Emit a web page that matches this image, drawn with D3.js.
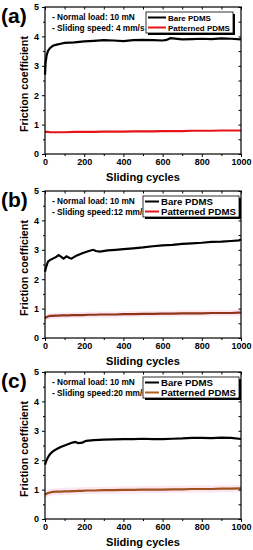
<!DOCTYPE html>
<html>
<head>
<meta charset="utf-8">
<script src="https://cdn.jsdelivr.net/npm/d3@7"></script>
<style>
  body { margin: 0; background: #fff; }
  text { font-family: "Liberation Sans", Arial, sans-serif; font-weight: bold; }
</style>
</head>
<body>
<script>
var cyclesA = [0, 3, 8, 15, 25, 40, 60, 80, 100, 150, 200, 250, 300, 350, 400, 450, 500, 550, 600, 620, 640, 700, 750, 800, 850, 900, 950, 1000];
var bareA = [2.7, 3.1, 3.35, 3.5, 3.6, 3.68, 3.72, 3.75, 3.78, 3.8, 3.83, 3.85, 3.87, 3.86, 3.84, 3.87, 3.88, 3.87, 3.86, 3.88, 3.94, 3.9, 3.91, 3.92, 3.91, 3.93, 3.92, 3.9];
var patA = [0.77, 0.76, 0.75, 0.75, 0.74, 0.74, 0.74, 0.74, 0.74, 0.75, 0.75, 0.75, 0.76, 0.76, 0.76, 0.77, 0.77, 0.77, 0.78, 0.78, 0.78, 0.78, 0.79, 0.79, 0.79, 0.8, 0.8, 0.8];

var cyclesB = [0, 5, 15, 25, 40, 55, 70, 85, 95, 110, 125, 135, 160, 190, 220, 245, 260, 280, 320, 360, 400, 450, 500, 550, 600, 650, 700, 750, 800, 850, 900, 950, 990, 1000];
var bareB = [2.25, 2.4, 2.6, 2.65, 2.7, 2.75, 2.82, 2.75, 2.7, 2.78, 2.72, 2.7, 2.8, 2.88, 2.95, 3.0, 2.96, 2.94, 2.98, 3.0, 3.02, 3.05, 3.08, 3.12, 3.15, 3.17, 3.2, 3.22, 3.24, 3.27, 3.28, 3.3, 3.32, 3.36];
var patB = [0.68, 0.7, 0.73, 0.75, 0.75, 0.76, 0.76, 0.77, 0.77, 0.77, 0.77, 0.78, 0.78, 0.78, 0.79, 0.79, 0.79, 0.8, 0.8, 0.8, 0.81, 0.81, 0.82, 0.82, 0.83, 0.83, 0.84, 0.84, 0.84, 0.85, 0.85, 0.85, 0.86, 0.86];

var cyclesC = [0, 5, 15, 25, 40, 60, 80, 100, 120, 140, 155, 170, 190, 210, 250, 300, 350, 400, 450, 500, 550, 600, 650, 700, 750, 800, 850, 900, 950, 1000];
var bareC = [1.85, 1.95, 2.1, 2.2, 2.3, 2.38, 2.45, 2.5, 2.55, 2.6, 2.62, 2.58, 2.6, 2.66, 2.68, 2.7, 2.71, 2.72, 2.72, 2.73, 2.72, 2.72, 2.73, 2.74, 2.76, 2.76, 2.75, 2.77, 2.76, 2.72];
var patC = [0.82, 0.85, 0.88, 0.9, 0.92, 0.93, 0.93, 0.94, 0.94, 0.95, 0.95, 0.96, 0.96, 0.97, 0.97, 0.98, 0.98, 0.99, 0.99, 1.0, 1.0, 1.0, 1.01, 1.01, 1.02, 1.02, 1.02, 1.03, 1.03, 1.04];

var xTicks = [0, 200, 400, 600, 800, 1000];
var yTicks = [0, 1, 2, 3, 4, 5];
var panelLabels = ["(a)", "(b)", "(c)"];
var speedTexts = ["- Sliding speed: 4 mm/s", "- Sliding speed:12 mm/s", "- Sliding speed:20 mm/s"];
var loadText = "- Normal load: 10 mN";
var seriesNames = ["Bare PDMS", "Patterned PDMS"];
var patColors = ["#e8141b", "#8e3418", "#a0521d"];
var legPatColors = ["#e8141b", "#e8141b", "#b0601e"];
var bandWidth = [0, 0.1, 0.12];

var W = 253, H = 550;
var svg = d3.select("body").append("svg").attr("width", W).attr("height", H);

// shrink or grow a text's font so that it spans the wanted width
function fit(sel, width) {
  var fs = +sel.attr("font-size");
  var w = sel.node().getComputedTextLength();
  sel.attr("font-size", fs * width / w);
  return sel;
}

var panels = [
  { top: 7, cycles: cyclesA, bare: bareA, pat: patA },
  { top: 191, cycles: cyclesB, bare: bareB, pat: patB },
  { top: 372, cycles: cyclesC, bare: bareC, pat: patC }
];

var left = 45, right = 241, ph = 147;

panels.forEach(function(p, i) {
  var g = svg.append("g");
  var x = d3.scaleLinear().domain([0, 1000]).range([left, right]);
  var y = d3.scaleLinear().domain([0, 5]).range([p.top + ph, p.top]);

  var bare = p.cycles.map(function(c, k) { return { c: c, v: p.bare[k] }; });
  var pat = p.cycles.map(function(c, k) { return { c: c, v: p.pat[k] }; });

  // pink error band around patterned curve
  if (bandWidth[i] > 0) {
    var area = d3.area()
      .x(function(d) { return x(d.c); })
      .y0(function(d) { return y(d.v - bandWidth[i]); })
      .y1(function(d) { return y(d.v + bandWidth[i]); });
    g.append("path").datum(pat).attr("d", area).attr("fill", "#fce6f2");
  }

  var line = d3.line()
    .x(function(d) { return x(d.c); })
    .y(function(d) { return y(d.v); });

  g.append("path").datum(bare).attr("d", line)
    .attr("fill", "none").attr("stroke", "#000").attr("stroke-width", 2.2);
  g.append("path").datum(pat).attr("d", line)
    .attr("fill", "none").attr("stroke", patColors[i]).attr("stroke-width", 2.2);

  // frame
  g.append("rect").attr("x", left).attr("y", p.top)
    .attr("width", right - left).attr("height", ph)
    .attr("fill", "none").attr("stroke", "#000").attr("stroke-width", 1.2);

  // bottom axis
  var xAx = g.append("g").attr("transform", "translate(0," + (p.top + ph) + ")")
    .call(d3.axisBottom(x).tickValues(xTicks).tickFormat(d3.format("d")).tickSize(3).tickPadding(2));
  xAx.select(".domain").remove();
  xAx.selectAll("text").attr("font-size", 9).attr("fill", "#000")
    .style("font-family", "Liberation Sans, Arial, sans-serif").style("font-weight", "bold");
  g.append("g").attr("transform", "translate(0," + (p.top + ph) + ")")
    .call(d3.axisBottom(x).tickValues(d3.range(100, 1000, 200)).tickSize(2).tickFormat(""))
    .select(".domain").remove();
  // top mirror ticks
  g.append("g").attr("transform", "translate(0," + p.top + ")")
    .call(d3.axisBottom(x).tickValues(d3.range(0, 1001, 100)).tickSize(2.5).tickFormat(""))
    .select(".domain").remove();

  // left axis
  var yAx = g.append("g").attr("transform", "translate(" + left + ",0)")
    .call(d3.axisLeft(y).tickValues(yTicks).tickFormat(d3.format("d")).tickSize(3).tickPadding(3));
  yAx.select(".domain").remove();
  yAx.selectAll("text").attr("font-size", 9).attr("fill", "#000")
    .style("font-family", "Liberation Sans, Arial, sans-serif").style("font-weight", "bold");
  g.append("g").attr("transform", "translate(" + left + ",0)")
    .call(d3.axisLeft(y).tickValues([0.5, 1.5, 2.5, 3.5, 4.5]).tickSize(2).tickFormat(""))
    .select(".domain").remove();
  // right mirror ticks
  g.append("g").attr("transform", "translate(" + right + ",0)")
    .call(d3.axisLeft(y).tickValues(d3.range(0, 5.01, 0.5)).tickSize(2.5).tickFormat(""))
    .select(".domain").remove();

  // axis titles
  fit(g.append("text").text("Sliding cycles")
    .attr("x", (left + right) / 2).attr("y", p.top + ph + 27)
    .attr("text-anchor", "middle").attr("font-size", 12), 74);
  fit(g.append("text").text("Friction coefficient")
    .attr("transform", "translate(28," + (p.top + 77) + ") rotate(-90)")
    .attr("text-anchor", "middle").attr("font-size", 10.5), 96);

  // panel label
  g.append("text").text(panelLabels[i])
    .attr("x", 1).attr("y", p.top + 16).attr("font-size", 21);

  // condition notes
  var note = fit(g.append("text").text(loadText)
    .attr("x", 52).attr("y", p.top + 13).attr("font-size", 9), 83);
  g.append("text").text(speedTexts[i])
    .attr("x", 52).attr("y", p.top + 24).attr("font-size", note.attr("font-size"));

  // legend box with drop shadow
  var lx = i == 0 ? 146 : 143, ly = p.top + 5, lw = i == 0 ? 87 : 96, lh = 21;
  var lineLen = i == 0 ? 18 : 14;
  g.append("rect").attr("x", lx + 2).attr("y", ly + 2).attr("width", lw).attr("height", lh).attr("fill", "#000");
  g.append("rect").attr("x", lx).attr("y", ly).attr("width", lw).attr("height", lh)
    .attr("fill", "#fff").attr("stroke", "#000").attr("stroke-width", 0.8);
  var legColors = ["#000", legPatColors[i]];
  var legFs = 0;
  seriesNames.forEach(function(name, k) {
    var yy = ly + 5.5 + k * 10;
    g.append("line").attr("x1", lx + 2).attr("x2", lx + 2 + lineLen).attr("y1", yy).attr("y2", yy)
      .attr("stroke", legColors[k]).attr("stroke-width", 2);
    var t = g.append("text").text(name).attr("x", lx + lineLen + 4).attr("y", yy + 3.2)
      .attr("font-size", 9);
    if (k == 1) {
      fit(t, lw - lineLen - 7);
      legFs = t.attr("font-size");
    }
  });
  g.selectAll("text").filter(function() { return d3.select(this).text() == seriesNames[0]; })
    .attr("font-size", legFs);
});
</script>
</body>
</html>
